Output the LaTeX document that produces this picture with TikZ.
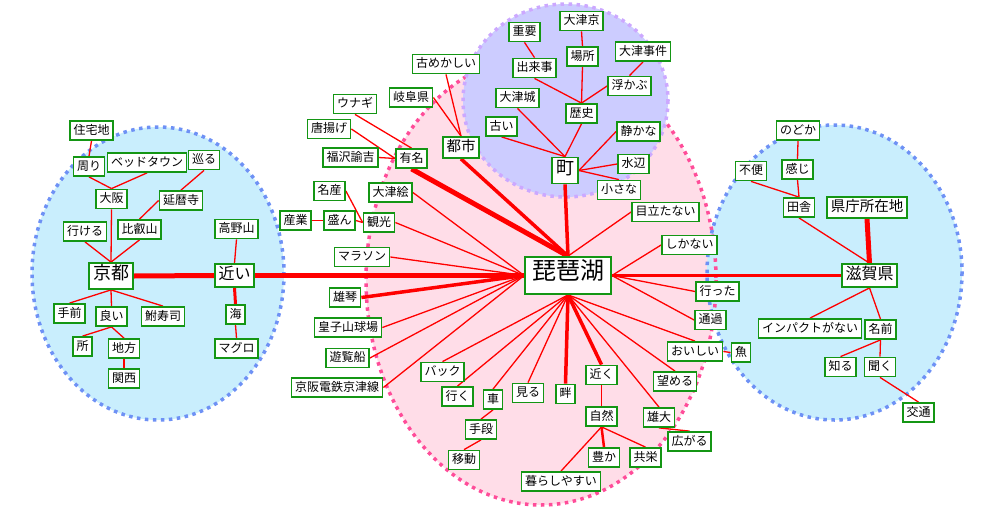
\documentclass[tikz,border=0pt]{standalone}
\usepackage{fontspec}
\newfontfamily\jp{Noto Sans CJK JP}
\definecolor{ngreen}{RGB}{20,150,20}
\definecolor{bfill}{RGB}{201,238,253}
\definecolor{bdot}{RGB}{110,145,245}
\definecolor{pfill}{RGB}{255,221,232}
\definecolor{pdot}{RGB}{255,76,153}
\definecolor{vfill}{RGB}{204,204,255}
\definecolor{vdot}{RGB}{204,168,255}
\pgfdeclarelayer{bg}
\pgfdeclarelayer{edges}
\pgfsetlayers{bg,edges,main}
\tikzset{
  n/.style={draw=ngreen, line width=1.8pt, fill=white, text=black,
    font=\jp\fontsize{12}{12}\selectfont, inner xsep=3.5pt, inner ysep=0pt,
    minimum height=19pt, text height=0.88em, text depth=0.12em},
  bigA/.style={n, font=\jp\fontsize{18}{18}\selectfont, inner xsep=4pt, minimum height=26pt},
  bigB/.style={n, font=\jp\fontsize{16}{16}\selectfont, inner xsep=3.5pt, minimum height=23pt},
  midn/.style={n, font=\jp\fontsize{14.5}{14.5}\selectfont, inner xsep=3.5pt, minimum height=21pt},
  hub/.style={n, font=\jp\fontsize{24}{24}\selectfont, inner xsep=7pt, minimum height=37pt},
  e/.style={draw=red, line width=1.3pt},
  wA/.style={e, line width=5pt},
  wB/.style={e, line width=3.5pt},
  wC/.style={e, line width=3pt},
  wD/.style={e, line width=2.5pt},
  dotb/.style={line width=3.5pt, dash pattern=on 3.5pt off 4.5pt},
}
\begin{document}
\begin{tikzpicture}[x=1pt, y=-1pt]
\useasboundingbox (0,0) rectangle (1000,519);
\begin{pgfonlayer}{bg}
  \fill[pfill] (541,280) ellipse [x radius=175, y radius=225];
  \fill[bfill] (158,273.5) ellipse [x radius=126, y radius=146.5];
  \fill[bfill] (834.5,272.5) ellipse [x radius=127.5, y radius=147.5];
  \draw[pdot, dotb] (541,280) ellipse [x radius=175, y radius=225];
  \draw[bdot, dotb] (158,273.5) ellipse [x radius=126, y radius=146.5];
  \draw[bdot, dotb] (834.5,272.5) ellipse [x radius=127.5, y radius=147.5];
  \fill[vfill] (565.5,100.5) ellipse [x radius=102.5, y radius=96.5];
  \draw[vdot, dotb] (565.5,100.5) ellipse [x radius=102.5, y radius=96.5];
\end{pgfonlayer}
% Kyoto cluster
\node[n] (jutaku) at (91.5,130.5) {住宅地};
\node[n] (mawari) at (89,166.5) {周り};
\node[n] (bed) at (147,162.5) {ベッドタウン};
\node[n] (meguru) at (204,160) {巡る};
\node[n] (osaka) at (111.5,199) {大阪};
\node[n] (enryaku) at (181,200.5) {延暦寺};
\node[n] (ikeru) at (85,231.5) {行ける};
\node[n] (hiei) at (139.5,229.5) {比叡山};
\node[n] (koya) at (236.5,229) {高野山};
\node[bigA] (kyoto) at (111,276) {京都};
\node[bigB] (chikai) at (234.5,275.5) {近い};
\node[n] (temae) at (69.5,313.5) {手前};
\node[n] (yoi) at (111.5,316.5) {良い};
\node[n] (funa) at (163,316.5) {鮒寿司};
\node[n] (tokoro) at (82.5,346.5) {所};
\node[n] (chiho) at (124,348.5) {地方};
\node[n] (kansai) at (124,378.5) {関西};
\node[n] (umi) at (235.5,314.5) {海};
\node[n] (maguro) at (236.5,348.5) {マグロ};
% upper left
\node[n] (furume) at (446,64) {古めかしい};
\node[n] (gifu) at (411,97.5) {岐阜県};
\node[n] (unagi) at (355,104) {ウナギ};
\node[n] (karaage) at (329,129) {唐揚げ};
\node[n] (fukuzawa) at (350.5,157.5) {福沢諭吉};
\node[n] (yumei) at (411.5,158.5) {有名};
\node[midn] (toshi) at (461,147.5) {都市};
\node[n] (meisan) at (329.5,191) {名産};
\node[n] (otsue) at (390.5,192.5) {大津絵};
\node[n] (sangyo) at (295.5,220.5) {産業};
\node[n] (sakan) at (339.5,220.5) {盛ん};
\node[n] (kanko) at (379,222.5) {観光};
% purple
\node[n] (juyo) at (524.5,32) {重要};
\node[n] (otsukyo) at (581.5,21) {大津京};
\node[n] (basho) at (582.5,56.5) {場所};
\node[n] (otsujiken) at (643,51.5) {大津事件};
\node[n] (dekigoto) at (534.5,68) {出来事};
\node[n] (ukabu) at (629.5,86) {浮かぶ};
\node[n] (otsujo) at (517.5,98) {大津城};
\node[n] (rekishi) at (581.5,113.5) {歴史};
\node[n] (furui) at (501.5,126.5) {古い};
\node[n] (shizuka) at (638.5,131.5) {静かな};
\node[bigA] (machi) at (565,170.5) {町};
\node[n] (mizube) at (633.5,164) {水辺};
\node[n] (chiisana) at (619,190) {小さな};
% center
\node[hub] (biwako) at (568,275.5) {琵琶湖};
\node[n] (medatanai) at (665.5,212) {目立たない};
\node[n] (shikanai) at (689.5,245) {しかない};
\node[n] (itta) at (717.5,291.5) {行った};
\node[n] (tsuka) at (710.5,320) {通過};
\node[n] (oishii) at (695,351.5) {おいしい};
\node[n] (sakana) at (741,352.5) {魚};
\node[n] (nozomeru) at (675,381.5) {望める};
\node[n] (chikaku) at (601.5,375) {近く};
\node[n] (shizen) at (601.5,416.5) {自然};
\node[n] (yudai) at (659,417.5) {雄大};
\node[n] (hirogaru) at (689.5,441.5) {広がる};
\node[n] (back) at (442.5,372) {バック};
\node[n] (iku) at (457.5,396.5) {行く};
\node[n] (kuruma) at (493,399.5) {車};
\node[n] (shudan) at (481,429.5) {手段};
\node[n] (ido) at (464,460) {移動};
\node[n] (miru) at (528,393) {見る};
\node[n] (hotori) at (565.5,394) {畔};
\node[n] (yutaka) at (604,457.5) {豊か};
\node[n] (kyoei) at (645.5,457.5) {共栄};
\node[n] (kurashi) at (561,481.5) {暮らしやすい};
\node[n] (marathon) at (362,257) {マラソン};
\node[n] (ogoto) at (345,297.5) {雄琴};
\node[n] (ojiyama) at (348,327.5) {皇子山球場};
\node[n] (yuransen) at (347.5,358) {遊覧船};
\node[n] (keihan) at (337,387.5) {京阪電鉄京津線};
% Shiga
\node[n] (nodoka) at (798,130.5) {のどか};
\node[n] (fuben) at (751,171) {不便};
\node[n] (kanji) at (797.5,169.5) {感じ};
\node[n] (inaka) at (799,207.5) {田舎};
\node[midn] (kencho) at (867,207.5) {県庁所在地};
\node[bigB] (shiga) at (869.5,275.5) {滋賀県};
\node[n] (impact) at (810,328.5) {インパクトがない};
\node[n] (namae) at (880.5,329.5) {名前};
\node[n] (shiru) at (840.5,367) {知る};
\node[n] (kiku) at (880,367) {聞く};
\node[n] (kotsu) at (918.5,412.5) {交通};
\begin{pgfonlayer}{edges}
  % Kyoto
  \draw[e] (jutaku.south) -- (mawari.north);
  \draw[e] (mawari.south) -- (osaka.north);
  \draw[e] (bed.south) -- (osaka.north);
  \draw[e] (meguru.south) -- (enryaku.north);
  \draw[e] (enryaku.west) -- (hiei.north);
  \draw[e] (osaka.south) -- (kyoto.north);
  \draw[e] (ikeru.south) -- (kyoto.north);
  \draw[e] (hiei.south) -- (kyoto.north);
  \draw[e] (kyoto.south) -- (temae.north);
  \draw[e] (kyoto.south) -- (yoi.north);
  \draw[e] (kyoto.south) -- (funa.north);
  \draw[e] (yoi.south) -- (tokoro.north);
  \draw[e] (yoi.south) -- (chiho.north);
  \draw[e] (chiho.south) -- (kansai.north);
  \draw[wA] (kyoto.east) -- (chikai.west);
  \draw[e] (koya.south) -- (chikai.north);
  \draw[wC] (chikai.south) -- (umi.north);
  \draw[e] (umi.south) -- (maguro.north);
  \draw[wA] (chikai.east) -- (biwako.west);
  % upper left
  \draw[e] (unagi.south) -- (yumei.north);
  \draw[e] (karaage.east) -- (yumei.west);
  \draw[e] (fukuzawa.east) -- (yumei.west);
  \draw[e] (meisan.east) -- (kanko.west);
  \draw[e] (sakan.east) -- (kanko.west);
  \draw[e] (sangyo.east) -- (sakan.west);
  \draw[wA] (yumei.south) -- (biwako.north);
  \draw[e] (otsue.east) -- (biwako.west);
  \draw[e] (kanko.east) -- (biwako.west);
  \draw[e] (furume.south) -- (toshi.north);
  \draw[e] (gifu.east) -- (toshi.north);
  \draw[wB] (toshi.south) -- (biwako.north);
  % purple
  \draw[e] (juyo.south) -- (dekigoto.north);
  \draw[e] (otsukyo.south) -- (basho.north);
  \draw[e] (otsujiken.south) -- (ukabu.north);
  \draw[e] (dekigoto.south) -- (rekishi.north);
  \draw[e] (basho.south) -- (rekishi.north);
  \draw[e] (ukabu.west) -- (rekishi.north);
  \draw[e] (otsujo.south) -- (machi.north);
  \draw[e] (furui.south) -- (machi.north);
  \draw[e] (rekishi.south) -- (machi.north);
  \draw[e] (machi.east) -- (shizuka.west);
  \draw[e] (machi.east) -- (mizube.west);
  \draw[e] (machi.east) -- (chiisana.north);
  \draw[wB] (machi.south) -- (biwako.north);
  % right of hub
  \draw[e] (medatanai.west) -- (biwako.north);
  \draw[e] (shikanai.west) -- (biwako.east);
  \draw[e] (biwako.east) -- (itta.west);
  \draw[e] (biwako.east) -- (tsuka.west);
  \draw[e] (biwako.south) -- (oishii.north);
  \draw[e] (oishii.east) -- (sakana.west);
  \draw[e] (biwako.south) -- (nozomeru.north);
  \draw[e] (biwako.south) -- (yudai.north);
  \draw[e] (yudai.south) -- (hirogaru.north);
  \draw[wB] (biwako.south) -- (chikaku.north);
  \draw[e] (chikaku.south) -- (shizen.north);
  \draw[wD] (shizen.south) -- (yutaka.north);
  \draw[e] (shizen.south) -- (kyoei.north);
  \draw[e] (shizen.south) -- (kurashi.north);
  \draw[wB] (biwako.south) -- (hotori.north);
  \draw[e] (biwako.south) -- (miru.north);
  \draw[e] (biwako.south) -- (kuruma.north);
  \draw[e] (kuruma.south) -- (shudan.north);
  \draw[e] (shudan.south) -- (ido.north);
  \draw[e] (biwako.south) -- (iku.north);
  \draw[e] (biwako.south) -- (back.north);
  % left of hub
  \draw[e] (marathon.east) -- (biwako.west);
  \draw[wB] (ogoto.east) -- (biwako.west);
  \draw[e] (ojiyama.east) -- (biwako.west);
  \draw[e] (yuransen.east) -- (biwako.west);
  \draw[e] (keihan.east) -- (biwako.west);
  % Shiga
  \draw[wC] (biwako.east) -- (shiga.west);
  \draw[e] (nodoka.south) -- (kanji.north);
  \draw[e] (kanji.south) -- (inaka.north);
  \draw[e] (fuben.south) -- (inaka.north);
  \draw[e] (inaka.south) -- (shiga.north);
  \draw[wA] (kencho.south) -- (shiga.north);
  \draw[e] (shiga.south) -- (impact.north);
  \draw[e] (shiga.south) -- (namae.north);
  \draw[e] (namae.south) -- (shiru.north);
  \draw[e] (namae.south) -- (kiku.north);
  \draw[e] (kiku.south) -- (kotsu.north);
\end{pgfonlayer}
\end{tikzpicture}
\end{document}
